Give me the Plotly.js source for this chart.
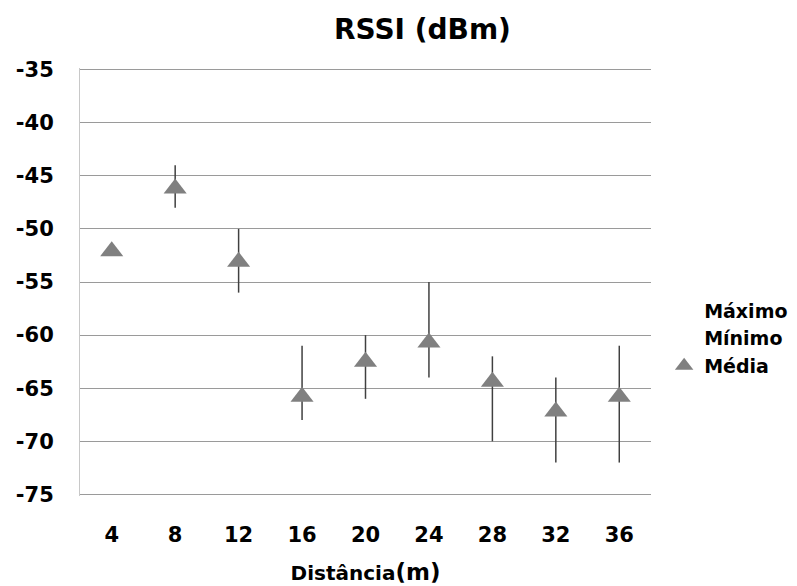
<!DOCTYPE html>
<html>
<head>
<meta charset="utf-8">
<script src="https://cdn.plot.ly/plotly-3.0.1.min.js"></script>
<style>html,body{margin:0;padding:0;background:#fff;}#chart{width:797px;height:586px;}</style>
</head>
<body>
<div id="chart"></div>
<script>
var distancias = ['4', '8', '12', '16', '20', '24', '28', '32', '36'];
var maximo = [-52, -44, -50, -61, -60, -55, -62, -64, -61];
var minimo = [-52, -48, -56, -68, -66, -64, -70, -72, -72];
var media  = [-52.1, -46.2, -53.1, -65.8, -62.5, -60.7, -64.4, -67.2, -65.8];
var yTicks = [-75, -70, -65, -60, -55, -50, -45, -40, -35];

var font = 'DejaVu Sans, sans-serif';

var upper = media.map(function (m, i) { return maximo[i] - m; });
var lower = media.map(function (m, i) { return m - minimo[i]; });

var traces = [
  {
    name: 'Máximo', type: 'scatter', mode: 'markers',
    x: distancias, y: maximo,
    marker: {color: 'rgba(0,0,0,0)', size: 1},
    hoverinfo: 'skip'
  },
  {
    name: 'Mínimo', type: 'scatter', mode: 'markers',
    x: distancias, y: minimo,
    marker: {color: 'rgba(0,0,0,0)', size: 1},
    hoverinfo: 'skip'
  },
  {
    name: 'Média', type: 'scatter', mode: 'markers',
    x: distancias, y: media,
    marker: {symbol: 'triangle-up', size: 20, color: '#808080'},
    error_y: {
      type: 'data', symmetric: false,
      array: upper, arrayminus: lower,
      width: 0, thickness: 1.5, color: '#404040'
    }
  }
];

var layout = {
  width: 797, height: 586,
  margin: {l: 80, r: 146, t: 68, b: 90, autoexpand: false},
  paper_bgcolor: '#ffffff', plot_bgcolor: '#ffffff',
  title: {
    text: '<b>RSSI (dBm)</b>',
    font: {family: font, size: 28, color: '#000'},
    xref: 'container', x: 0.53, xanchor: 'center',
    yref: 'container', y: 0.95, yanchor: 'middle'
  },
  xaxis: {
    type: 'category',
    range: [-0.5, 8.5],
    showgrid: false, showline: false, zeroline: false,
    ticks: '', ticklabelstandoff: 24,
    tickfont: {family: font, size: 21, color: '#000', weight: 'bold'},
    title: {
      text: '<b>Distância<span style="font-size:23px">(m)</span></b>',
      font: {family: font, size: 20, color: '#000'},
      standoff: 19
    }
  },
  yaxis: {
    range: [-75.15, -34.85],
    tickvals: yTicks,
    ticktext: yTicks.map(String),
    showgrid: true, gridcolor: '#9a9a9a', gridwidth: 1,
    showline: true, linecolor: '#c8c8c8', linewidth: 1,
    zeroline: false, ticks: '', ticklabelstandoff: 21,
    tickfont: {family: font, size: 21, color: '#000', weight: 'bold'}
  },
  showlegend: true,
  legend: {
    x: 1.023, xanchor: 'left',
    y: 0.478, yanchor: 'top',
    font: {family: font, size: 19, color: '#000', weight: 'bold'},
    bgcolor: 'rgba(0,0,0,0)',
    itemwidth: 30,
    tracegroupgap: 0
  }
};

Plotly.newPlot('chart', traces, layout, {displayModeBar: false, staticPlot: true});
</script>
</body>
</html>
